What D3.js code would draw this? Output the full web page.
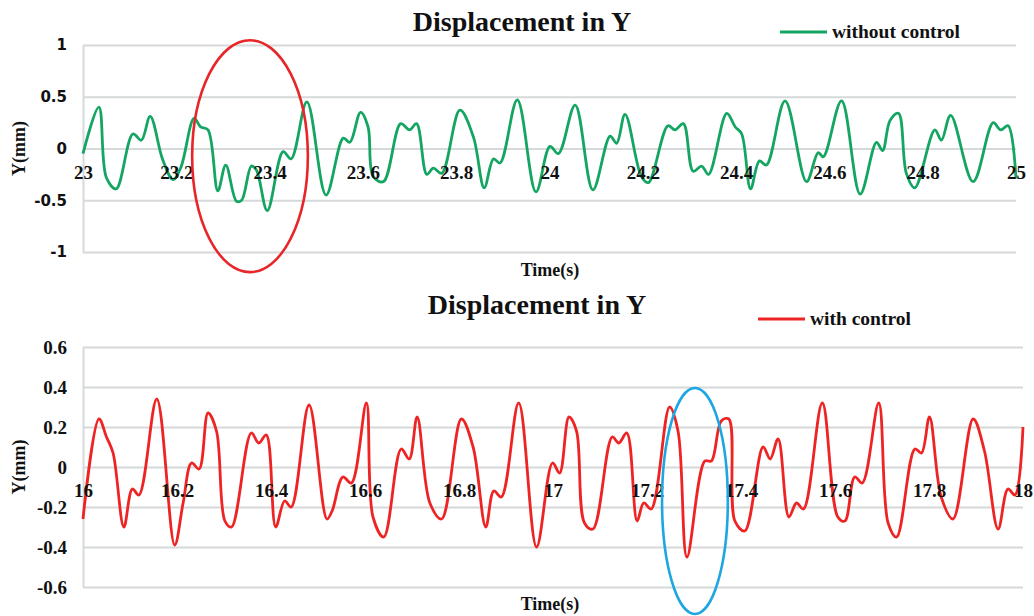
<!DOCTYPE html>
<html>
<head>
<meta charset="utf-8">
<script src="https://cdn.jsdelivr.net/npm/d3@7"></script>
<style>
  body { margin: 0; background: #fff; }
  svg { display: block; }
</style>
</head>
<body>
<div id="app"></div>
<script>
// top panel: without control
const timeTop = [23.0, 23.034, 23.05, 23.071, 23.107, 23.125, 23.144, 23.171, 23.193, 23.21, 23.238, 23.252, 23.268,
  23.289, 23.306, 23.329, 23.34, 23.361, 23.372, 23.395, 23.429, 23.446, 23.48, 23.521, 23.558, 23.572, 23.595,
  23.611, 23.622, 23.644, 23.681, 23.70, 23.715, 23.737, 23.751, 23.769, 23.808, 23.837, 23.86, 23.88, 23.894,
  23.931, 23.971, 24.001, 24.019, 24.055, 24.093, 24.13, 24.144, 24.162, 24.197, 24.212, 24.254, 24.269, 24.287,
  24.308, 24.326, 24.341, 24.38, 24.398, 24.412, 24.431, 24.45, 24.465, 24.505, 24.551, 24.576, 24.587, 24.626,
  24.666, 24.701, 24.714, 24.73, 24.748, 24.765, 24.783, 24.826, 24.84, 24.86, 24.908, 24.951, 24.967, 24.983, 25.0]
const yTop = [-0.05, 0.40, -0.28, -0.39, 0.14, 0.08, 0.31, -0.11, -0.30, -0.18, 0.29, 0.21, 0.18,
  -0.41, -0.16, -0.51, -0.50, -0.17, -0.21, -0.60, -0.03, -0.10, 0.45, -0.45, 0.10, 0.06, 0.35,
  0.21, -0.27, -0.32, 0.24, 0.18, 0.24, -0.25, -0.19, -0.24, 0.37, 0.11, -0.38, -0.10, -0.14,
  0.47, -0.42, 0.02, -0.05, 0.42, -0.40, 0.12, 0.05, 0.33, -0.27, -0.33, 0.22, 0.18, 0.24,
  -0.22, -0.17, -0.25, 0.34, 0.21, 0.14, -0.39, -0.12, -0.16, 0.46, -0.32, -0.04, -0.08, 0.46,
  -0.44, 0.06, -0.02, 0.27, 0.34, -0.24, -0.38, 0.18, 0.08, 0.32, -0.32, 0.25, 0.18, 0.22, -0.29]

// bottom panel: with control
const timeBot = [16.0, 16.034, 16.05, 16.064, 16.087, 16.105, 16.119, 16.157, 16.195, 16.213, 16.231, 16.247,
  16.266, 16.284, 16.302, 16.316, 16.358, 16.374, 16.39, 16.41, 16.429, 16.443, 16.481, 16.519, 16.53, 16.553,
  16.571, 16.603, 16.617, 16.64, 16.677, 16.694, 16.711, 16.738, 16.763, 16.805, 16.83, 16.857, 16.874, 16.89,
  16.927, 16.965, 16.999, 17.014, 17.034, 17.05, 17.067, 17.085, 17.126, 17.14, 17.157, 17.179, 17.193, 17.209,
  17.248, 17.266, 17.285, 17.323, 17.337, 17.358, 17.374, 17.387, 17.408, 17.447, 17.462, 17.479, 17.502, 17.518,
  17.533, 17.573, 17.606, 17.621, 17.642, 17.658, 17.693, 17.713, 17.731, 17.77, 17.784, 17.801, 17.826, 17.851,
  17.894, 17.918, 17.947, 17.968, 17.983, 18.0]
const yBot = [-0.26, 0.24, 0.15, 0.07, -0.30, -0.11, -0.14, 0.34, -0.39, -0.18, 0.02, -0.01,
  0.27, 0.18, -0.27, -0.30, 0.17, 0.12, 0.16, -0.30, -0.17, -0.20, 0.31, -0.26, -0.22, -0.05,
  -0.08, 0.32, -0.25, -0.35, 0.09, 0.04, 0.25, -0.18, -0.26, 0.24, 0.10, -0.30, -0.12, -0.15,
  0.32, -0.40, 0.02, -0.03, 0.25, 0.18, -0.28, -0.31, 0.15, 0.12, 0.17, -0.27, -0.18, -0.21,
  0.30, 0.18, -0.45, 0.03, 0.03, 0.23, 0.24, -0.27, -0.32, 0.10, 0.04, 0.14, -0.25, -0.18,
  -0.21, 0.32, -0.25, -0.27, -0.05, -0.08, 0.32, -0.28, -0.35, 0.09, 0.07, 0.25, -0.15, -0.26,
  0.24, 0.08, -0.31, -0.11, -0.14, 0.20]

const ticksTop = [23, 23.2, 23.4, 23.6, 23.8, 24, 24.2, 24.4, 24.6, 24.8, 25]
const ticksBot = [16, 16.2, 16.4, 16.6, 16.8, 17, 17.2, 17.4, 17.6, 17.8, 18]
const yTicksTop = [-1, -0.5, 0, 0.5, 1]
const yTicksBot = [-0.6, -0.4, -0.2, 0, 0.2, 0.4, 0.6]

const serif = "'Liberation Serif', 'Times New Roman', serif"
const plain = d => String(d)   // keep ascii hyphen for negatives

const svg = d3.select("#app").append("svg")
  .attr("width", 1034)
  .attr("height", 616)

function panel(o) {
  const fx = d3.scaleLinear().domain(o.xDomain).range(o.xRange)
  const fy = d3.scaleLinear().domain(o.yDomain).range(o.yRange)
  const g = svg.append("g")

  // gridlines + y labels
  const gy = g.append("g")
      .attr("transform", `translate(${o.xRange[0]},0)`)
      .call(d3.axisLeft(fy).tickValues(o.yTicks).tickSize(-(o.xRange[1] - o.xRange[0])).tickSizeOuter(0).tickPadding(16)
        .tickFormat(plain))
  gy.select(".domain").attr("stroke", "#d6d9da").attr("stroke-width", 2)
  gy.selectAll(".tick line").attr("stroke", "#d6d9da").attr("stroke-width", 1.8)
  gy.selectAll(".tick text")
    .attr("font-family", o.yFont)
    .attr("font-size", o.ySize)
    .attr("font-weight", "bold")
    .attr("fill", "#111")

  const line = d3.line()
    .x((d, i) => fx(o.t[i]))
    .y(d => fy(d))
    .curve(d3.curveCatmullRom.alpha(0.5))
  g.append("path")
    .attr("d", line(o.y))
    .attr("fill", "none")
    .attr("stroke", o.color)
    .attr("stroke-width", 2.8)
    .attr("stroke-linejoin", "round")

  // x labels sit under the zero line, over the curve
  const gx = g.append("g")
      .attr("transform", `translate(0,${fy(0)})`)
      .call(d3.axisBottom(fx).tickValues(o.xTicks).tickSize(0).tickPadding(17).tickFormat(plain))
  gx.select(".domain").remove()
  gx.selectAll(".tick text")
    .attr("font-family", serif)
    .attr("font-size", 19)
    .attr("font-weight", "bold")
    .attr("fill", "#111")

  // titles
  g.append("text")
    .attr("x", o.titleX).attr("y", o.titleY)
    .attr("text-anchor", "middle")
    .attr("font-family", serif).attr("font-size", 28).attr("font-weight", "bold")
    .attr("fill", "#111")
    .text("Displacement in Y")
  g.append("text")
    .attr("x", 550).attr("y", o.xLabelY)
    .attr("text-anchor", "middle")
    .attr("font-family", serif).attr("font-size", 18).attr("font-weight", "bold")
    .attr("fill", "#111")
    .text("Time(s)")
  const cy = (o.yRange[0] + o.yRange[1]) / 2
  g.append("text")
    .attr("transform", `translate(25,${cy}) rotate(-90)`)
    .attr("text-anchor", "middle")
    .attr("font-family", serif).attr("font-size", 18).attr("font-weight", "bold")
    .attr("fill", "#111")
    .text("Y(mm)")

  // legend
  g.append("line")
    .attr("x1", o.legX).attr("x2", o.legX + 47)
    .attr("y1", o.legY).attr("y2", o.legY)
    .attr("stroke", o.color).attr("stroke-width", 2.8)
  g.append("text")
    .attr("x", o.legX + 52).attr("y", o.legY + 6)
    .attr("font-family", serif).attr("font-size", 19.5).attr("font-weight", "bold")
    .attr("fill", "#111")
    .text(o.name)

  // highlight ellipse
  const e = o.ellipse
  g.append("ellipse")
    .attr("cx", fx(e.t)).attr("cy", fy(e.v))
    .attr("rx", fx(e.t + e.dt) - fx(e.t))
    .attr("ry", fy(e.v - e.dv) - fy(e.v))
    .attr("fill", "none")
    .attr("stroke", e.color)
    .attr("stroke-width", 2.6)
}

panel({
  t: timeTop, y: yTop, color: "#14a562", name: "without control",
  xDomain: [23, 25], xRange: [83, 1016], yDomain: [-1, 1], yRange: [252, 45],
  xTicks: ticksTop, yTicks: yTicksTop,
  yFont: "'DejaVu Sans', sans-serif", ySize: 15,
  titleX: 522, titleY: 31, xLabelY: 276, legX: 780, legY: 32,
  ellipse: { t: 23.358, v: -0.074, dt: 0.124, dv: 1.12, color: "#e8262a" }
})

panel({
  t: timeBot, y: yBot, color: "#ee2424", name: "with control",
  xDomain: [16, 18], xRange: [83, 1023], yDomain: [-0.6, 0.6], yRange: [587, 347],
  xTicks: ticksBot, yTicks: yTicksBot,
  yFont: serif, ySize: 19,
  titleX: 537, titleY: 314, xLabelY: 610, legX: 758, legY: 319,
  ellipse: { t: 17.302, v: -0.17, dt: 0.07, dv: 0.565, color: "#1ea6e2" }
})
</script>
</body>
</html>
